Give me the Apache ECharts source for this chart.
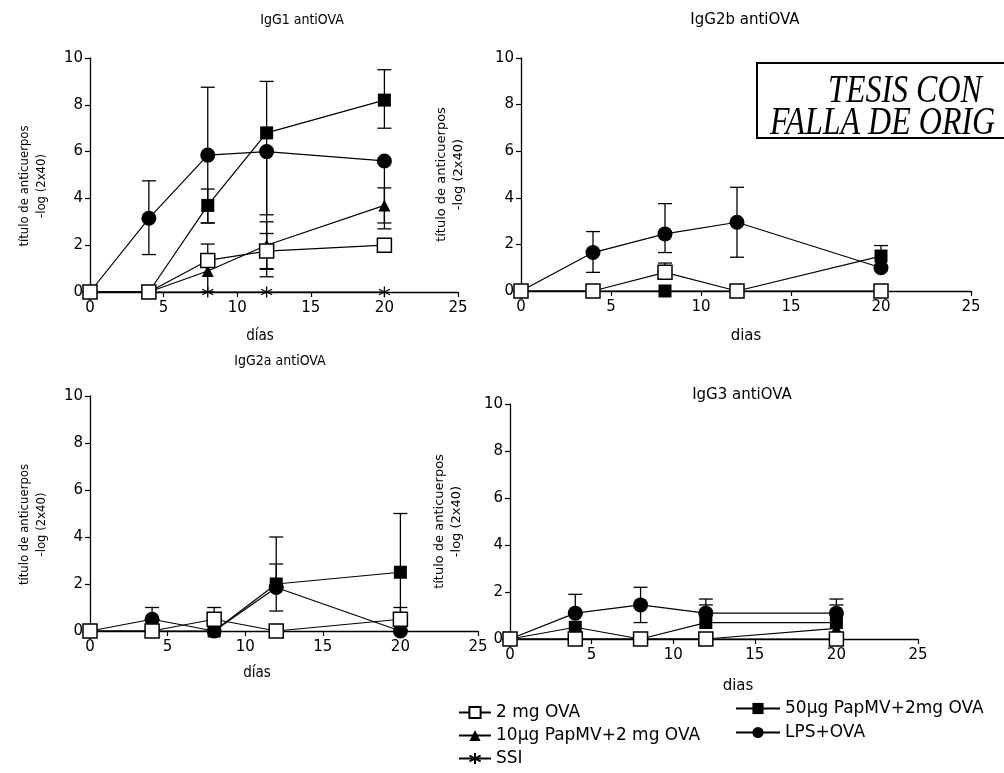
<!DOCTYPE html>
<html><head><meta charset="utf-8">
<script src="https://cdn.jsdelivr.net/npm/echarts@6/dist/echarts.min.js"></script>
<style>html,body{margin:0;padding:0;background:#fff}#c{width:1004px;height:773px}</style>
</head><body><div id="c"></div>
<script>
// ---------- data ----------
const days = [0, 4, 8, 12, 20];
const xTicks = [0, 5, 10, 15, 20, 25];
const yTicks = [0, 2, 4, 6, 8, 10];
const panelTitles = ['IgG1 antiOVA', 'IgG2b antiOVA', 'IgG2a antiOVA', 'IgG3 antiOVA'];
const xNames = ['días', 'dias', 'días', 'dias'];
const yName = 'título de anticuerpos\n-log (2x40)';
const G_OVA = '2 mg OVA', G_P10 = '10µg PapMV+2 mg OVA', G_P50 = '50µg PapMV+2mg OVA', G_LPS = 'LPS+OVA', G_SSI = 'SSI';

// IgG1 antiOVA
const g1_ova = [0, 0, 1.35, 1.75, 2.0];
const g1_ova_lo = [null, null, null, 1.0, null];
const g1_ova_hi = [null, null, 2.05, 2.5, null];
const g1_p10 = [0, 0, 0.9, 2.0, 3.7];
const g1_p10_lo = [null, null, 0, 0.97, 2.95];
const g1_p10_hi = [null, null, null, 3.0, 4.45];
const g1_p50 = [0, 0, 3.7, 6.8, 8.2];
const g1_p50_lo = [null, null, 2.95, 3.3, 7.0];
const g1_p50_hi = [null, null, 4.4, 9.0, 9.5];
const g1_lps = [0, 3.15, 5.85, 6.0, 5.6];
const g1_lps_lo = [null, 1.6, 2.95, 0.65, 2.7];
const g1_lps_hi = [null, 4.75, 8.75, null, null];
const g1_ssi = [0, 0, 0, 0, 0];

// IgG2b antiOVA
const g2b_ova = [0, 0, 0.8, 0, 0];
const g2b_ova_hi = [null, null, 1.2, null, null];
const g2b_p50 = [0, 0, 0, 0, 1.5];
const g2b_p50_hi = [null, null, null, null, 1.95];
const g2b_lps = [0, 1.65, 2.45, 2.95, 1.0];
const g2b_lps_lo = [null, 0.8, 1.65, 1.45, null];
const g2b_lps_hi = [null, 2.55, 3.75, 4.45, null];

// IgG2a antiOVA
const g2a_ova = [0, 0, 0.5, 0, 0.5];
const g2a_ova_hi = [null, null, 1.0, null, 1.0];
const g2a_p50 = [0, 0, 0, 2.0, 2.5];
const g2a_p50_lo = [null, null, null, null, 0];
const g2a_p50_hi = [null, null, null, 4.0, 5.0];
const g2a_lps = [0, 0.5, 0, 1.85, 0];
const g2a_lps_lo = [null, null, null, 0.85, null];
const g2a_lps_hi = [null, 1.0, null, 2.85, null];

// IgG3 antiOVA
const g3_ova = [0, 0, 0, 0, 0];
const g3_p10 = [0, 0, 0, 0, 0.45];
const g3_p50 = [0, 0.5, 0, 0.7, 0.7];
const g3_p50_hi = [null, null, null, 1.45, 1.45];
const g3_lps = [0, 1.1, 1.45, 1.1, 1.1];
const g3_lps_lo = [null, null, 0.7, null, null];
const g3_lps_hi = [null, 1.9, 2.2, 1.7, 1.7];

// series per panel (drawing order: back to front)
const panelSeries = [
  [[G_SSI, g1_ssi], [G_P10, g1_p10, g1_p10_lo, g1_p10_hi], [G_LPS, g1_lps, g1_lps_lo, g1_lps_hi], [G_P50, g1_p50, g1_p50_lo, g1_p50_hi], [G_OVA, g1_ova, g1_ova_lo, g1_ova_hi]],
  [[G_LPS, g2b_lps, g2b_lps_lo, g2b_lps_hi], [G_P50, g2b_p50, null, g2b_p50_hi], [G_OVA, g2b_ova, null, g2b_ova_hi]],
  [[G_LPS, g2a_lps, g2a_lps_lo, g2a_lps_hi], [G_P50, g2a_p50, g2a_p50_lo, g2a_p50_hi], [G_OVA, g2a_ova, null, g2a_ova_hi]],
  [[G_P10, g3_p10], [G_LPS, g3_lps, g3_lps_lo, g3_lps_hi], [G_P50, g3_p50, null, g3_p50_hi], [G_OVA, g3_ova]]
];

// ---------- layout / style ----------
const NARROW = "'Liberation Sans Narrow','Arial Narrow','DejaVu Sans Condensed',sans-serif";
const WIDE = "'DejaVu Sans','Liberation Sans',sans-serif";
const grids = [
  {left: 90, top: 58, width: 368, height: 234},
  {left: 521, top: 58, width: 450, height: 233},
  {left: 90, top: 396, width: 388, height: 235},
  {left: 510, top: 404, width: 408, height: 235}
];
const panelLayout = [
  {title: [297, 8], tfont: NARROW, tsize: 14, xGap: 37, xPad: [0, 28, 0, 0], yGap: 40, yPad: [0, 22, 0, 0], nfont: NARROW, xsize: 15},
  {title: [740, 8], tfont: WIDE, tsize: 15, xGap: 38, xPad: [0, 0, 0, 0], yGap: 54, yPad: [0, 0, 0, 0], nfont: WIDE, xsize: 15},
  {title: [275, 349], tfont: NARROW, tsize: 14, xGap: 35, xPad: [0, 54, 0, 0], yGap: 40, yPad: [0, 22, 0, 0], nfont: NARROW, xsize: 15},
  {title: [737, 383], tfont: WIDE, tsize: 15, xGap: 40, xPad: [0, 0, 0, 48], yGap: 45, yPad: [0, 0, 0, 0], nfont: WIDE, xsize: 15}
];
const ASTER = 'path://M0,-10L0,10M-8.66,-5L8.66,5M-8.66,5L8.66,-5';
const styles = {};
styles[G_OVA] = {symbol: 'rect', size: 14, item: {color: '#fff', borderColor: '#000', borderWidth: 1.5}};
styles[G_P10] = {symbol: 'triangle', size: 12, item: {color: '#000'}};
styles[G_P50] = {symbol: 'rect', size: 13, item: {color: '#000'}};
styles[G_LPS] = {symbol: 'circle', size: 15, item: {color: '#000'}};
styles[G_SSI] = {symbol: ASTER, size: 11, item: {color: '#000', borderColor: '#000', borderWidth: 1.3}};

function errRender(params, api) {
  const x = api.value(0), lo = api.value(1), hi = api.value(2), hasLo = api.value(3), hasHi = api.value(4);
  const a = api.coord([x, hi]), b = api.coord([x, lo]);
  const w = 7, st = {stroke: '#000', lineWidth: 1.3};
  const ch = [{type: 'line', shape: {x1: a[0], y1: a[1], x2: b[0], y2: b[1]}, style: st}];
  if (hasHi) ch.push({type: 'line', shape: {x1: a[0] - w, y1: a[1], x2: a[0] + w, y2: a[1]}, style: st});
  if (hasLo) ch.push({type: 'line', shape: {x1: b[0] - w, y1: b[1], x2: b[0] + w, y2: b[1]}, style: st});
  return {type: 'group', children: ch};
}

const xAxes = [], yAxes = [], series = [], titles = [];
grids.forEach((g, p) => {
  const L = panelLayout[p];
  titles.push({text: panelTitles[p], left: L.title[0], top: L.title[1], textAlign: 'center',
    textStyle: {fontSize: L.tsize, fontWeight: 'normal', color: '#000', fontFamily: L.tfont}});
  xAxes.push({type: 'value', gridIndex: p, min: xTicks[0], max: xTicks[xTicks.length - 1], interval: xTicks[1] - xTicks[0],
    name: xNames[p], nameLocation: 'middle', nameGap: L.xGap,
    nameTextStyle: {fontSize: L.xsize, color: '#000', fontFamily: L.nfont, padding: L.xPad},
    axisLine: {show: true, onZero: false, lineStyle: {color: '#000', width: 1.3}},
    axisTick: {show: true, inside: false, length: 5, lineStyle: {color: '#000', width: 1.2}},
    axisLabel: {color: '#000', fontSize: 15, fontFamily: WIDE, margin: 9},
    splitLine: {show: false}});
  yAxes.push({type: 'value', gridIndex: p, min: yTicks[0], max: yTicks[yTicks.length - 1], interval: yTicks[1] - yTicks[0],
    name: yName, nameLocation: 'middle', nameGap: L.yGap, nameRotate: 90,
    nameTextStyle: {fontSize: 13, color: '#000', fontFamily: L.nfont, padding: L.yPad, lineHeight: 17},
    axisLine: {show: true, onZero: false, lineStyle: {color: '#000', width: 1.3}},
    axisTick: {show: true, inside: false, length: 5, lineStyle: {color: '#000', width: 1.2}},
    axisLabel: {color: '#000', fontSize: 15, fontFamily: WIDE, margin: 7},
    splitLine: {show: false}});
  // error bars
  const errData = [];
  panelSeries[p].forEach(s => {
    const vals = s[1], lo = s[2], hi = s[3];
    days.forEach((d, i) => {
      const hl = lo && lo[i] != null, hh = hi && hi[i] != null;
      if (hl || hh) errData.push([d, hl ? lo[i] : vals[i], hh ? hi[i] : vals[i], hl ? 1 : 0, hh ? 1 : 0]);
    });
  });
  series.push({type: 'custom', name: 'err' + p, xAxisIndex: p, yAxisIndex: p, z: 1, silent: true,
    renderItem: errRender, data: errData, encode: {x: 0, y: [1, 2]}});
  panelSeries[p].forEach((s, k) => {
    const st = styles[s[0]];
    series.push({type: 'line', name: s[0], xAxisIndex: p, yAxisIndex: p, z: 2 + k, silent: true,
      data: days.map((d, i) => [d, s[1][i]]),
      symbol: st.symbol, symbolSize: st.size, showAllSymbol: true,
      itemStyle: st.item, lineStyle: {color: '#000', width: 1.2},
      emphasis: {disabled: true}});
  });
});

const legendText = {color: '#000', fontSize: 17, fontFamily: WIDE};
const option = {
  animation: false,
  backgroundColor: '#fff',
  title: titles,
  grid: grids.map(g => Object.assign({containLabel: false, outerBoundsMode: 'none'}, g)),
  xAxis: xAxes,
  yAxis: yAxes,
  legend: [
    {orient: 'vertical', left: 458, top: 704, height: 69, padding: 0, itemGap: 6, itemWidth: 32, itemHeight: 14, selectedMode: false,
      textStyle: legendText, data: [G_OVA, G_P10, G_SSI]},
    {orient: 'vertical', left: 735, top: 700, height: 70, padding: 0, itemGap: 7, itemWidth: 44, itemHeight: 14, selectedMode: false,
      textStyle: legendText, data: [G_P50, G_LPS]}
  ],
  graphic: [
    {type: 'rect', shape: {x: 757, y: 63, width: 270, height: 75}, style: {fill: 'none', stroke: '#000', lineWidth: 2}},
    {type: 'text', x: 905, y: 91, scaleY: 1.25, style: {text: 'TESIS CON', fill: '#000', font: "italic 32px 'Liberation Serif','DejaVu Serif',serif", textAlign: 'center', textVerticalAlign: 'middle'}},
    {type: 'text', x: 770, y: 123, scaleY: 1.25, style: {text: 'FALLA DE ORIG', fill: '#000', font: "italic 32px 'Liberation Serif','DejaVu Serif',serif", textAlign: 'left', textVerticalAlign: 'middle'}}
  ],
  series: series
};
const chart = echarts.init(document.getElementById('c'), null, {renderer: 'canvas'});
chart.setOption(option);
</script></body></html>
